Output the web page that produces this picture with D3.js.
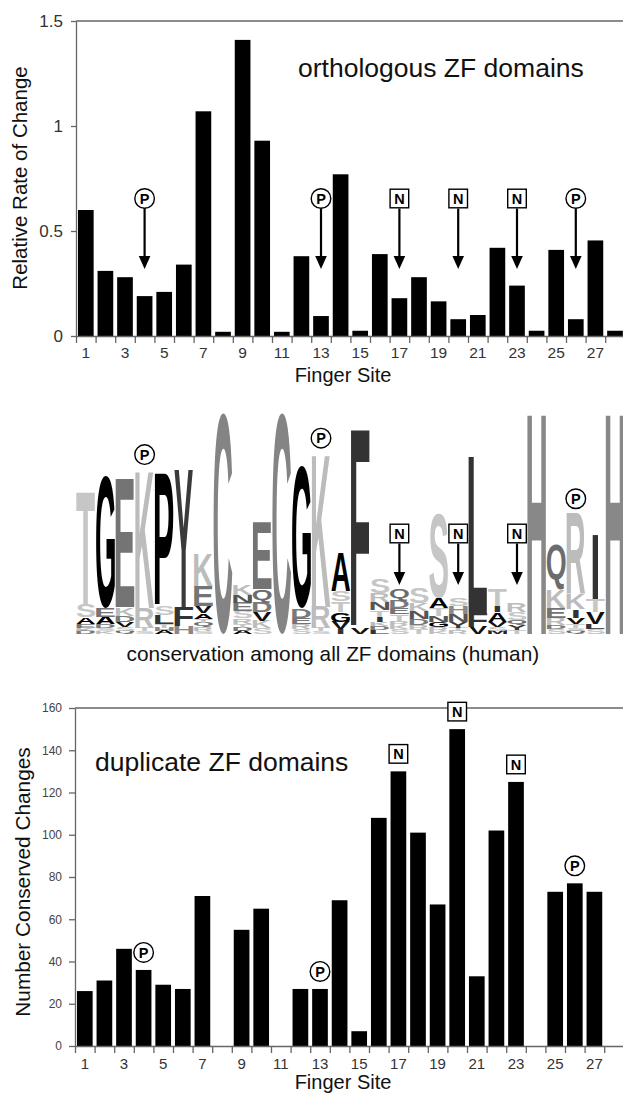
<!DOCTYPE html>
<html>
<head>
<meta charset="utf-8">
<script src="https://cdn.jsdelivr.net/npm/d3@7"></script>
<style>
body { margin: 0; background: #fff; }
svg { display: block; font-family: "Liberation Sans", Arial, sans-serif; }
</style>
</head>
<body>
<svg id="fig" width="623" height="1093"></svg>
<script>
// finger sites 1..28
const sites = [1,2,3,4,5,6,7,8,9,10,11,12,13,14,15,16,17,18,19,20,21,22,23,24,25,26,27,28];
const siteTickLabels = [1,3,5,7,9,11,13,15,17,19,21,23,25,27];

// top panel: relative rate of change, orthologous ZF domains
const rateOfChange = [0.60,0.31,0.28,0.19,0.21,0.34,1.07,0.02,1.41,0.93,0.02,0.38,0.095,0.77,
                      0.025,0.39,0.18,0.28,0.165,0.08,0.10,0.42,0.24,0.025,0.41,0.08,0.455,0.025];
const rateTicks = [0, 0.5, 1, 1.5];
const rateTickLabels = ["0", "0.5", "1", "1.5"];

// bottom panel: number of conserved changes, duplicate ZF domains
const conservedChanges = [26,31,46,36,29,27,71,0,55,65,0,27,27,69,7,108,130,101,67,150,33,102,125,0,73,77,73,0];
const countTicks = [0,20,40,60,80,100,120,140,160];

// marked sites (P = circle, N = box)
const markSites = [4, 13, 17, 20, 23, 26];
const markTypes = ["P", "P", "N", "N", "N", "P"];

// sequence logo: letters top to bottom, heights in bits
const logoLetters = ["TSAEKD","GEADSK","EKDVSQ","KRTS","PSLTHA","YFH","KEVATQRS","C","KNESRTDA","EQDVKS",
                     "C","GDERS","KRTS","ASTGVI","FV","SRNTIKDL","QDETRKS","SKNDRT","SATNGRK","SHNYTR",
                     "LFV","TIAVSM","RSQYT","H","QKERDS","RKIVTSQ","ITVLS","H"];
const logoBits = [
  [2.22,0.25,0.12,0.08,0.06,0.06],
  [2.57,0.16,0.14,0.08,0.06,0.06],
  [2.49,0.16,0.12,0.10,0.08,0.06],
  [2.68,0.39,0.06,0.06],
  [2.57,0.18,0.16,0.08,0.06,0.06],
  [2.67,0.37,0.16],
  [0.62,0.39,0.14,0.10,0.08,0.08,0.08,0.06],
  [4.30],
  [0.19,0.16,0.16,0.14,0.10,0.08,0.06,0.06],
  [1.30,0.27,0.19,0.16,0.14,0.12],
  [4.30],
  [2.76,0.18,0.12,0.10,0.10],
  [2.98,0.41,0.06,0.06],
  [0.76,0.21,0.21,0.18,0.14,0.10],
  [3.85,0.12],
  [0.29,0.18,0.16,0.12,0.10,0.08,0.08,0.08],
  [0.23,0.14,0.12,0.12,0.08,0.08,0.10],
  [0.31,0.16,0.14,0.12,0.08,0.10],
  [1.63,0.19,0.14,0.12,0.10,0.08,0.06],
  [0.16,0.16,0.14,0.12,0.06,0.06],
  [3.04,0.27,0.14],
  [0.33,0.12,0.18,0.10,0.08,0.06],
  [0.16,0.14,0.10,0.10,0.08],
  [4.32],
  [0.88,0.35,0.19,0.14,0.08,0.10],
  [1.56,0.29,0.16,0.12,0.08,0.06,0.06],
  [1.26,0.25,0.23,0.10,0.10],
  [4.32]
];
const letterColors = {A:"#000",V:"#111",L:"#333",I:"#333",P:"#000",F:"#333",M:"#222",W:"#222",
  G:"#000",S:"#c6c6c6",T:"#c6c6c6",Y:"#3a3a3a",C:"#848484",N:"#555",Q:"#6c6c6c",
  K:"#bcbcbc",R:"#bcbcbc",H:"#888",D:"#7a7a7a",E:"#747474"};

const svg = d3.select("#fig");
const axisColor = "#666";

const x = d3.scaleBand().domain(sites).range([76, 624.8]).paddingInner(0.2).paddingOuter(0.1);
const xEdge = d3.scaleLinear().domain([0.5, 28.5]).range([76, 624.8]);
const edges = sites.map(s => s - 0.5).concat([28.5]);
const cx = s => x(s) + x.bandwidth() / 2;

function styleAxis(g) {
  g.selectAll("path, line").attr("stroke", axisColor).attr("stroke-width", 1.3);
  g.selectAll("text").attr("fill", "#333").attr("font-family", "Liberation Sans, Arial, sans-serif");
}

function drawMark(g, px, py, type) {
  if (type === "P") {
    g.append("circle").attr("cx", px).attr("cy", py).attr("r", 9.8)
      .attr("fill", "#fff").attr("stroke", "#000").attr("stroke-width", 1.4);
  } else {
    g.append("rect").attr("x", px - 9.3).attr("y", py - 9.3).attr("width", 18.6).attr("height", 18.6)
      .attr("fill", "#fff").attr("stroke", "#000").attr("stroke-width", 1.4);
  }
  g.append("text").attr("x", px).attr("y", py + 5.2).attr("text-anchor", "middle")
    .attr("font-size", 14.5).attr("font-weight", "bold").attr("fill", "#000").text(type);
}

function drawArrow(g, px, y0, tip) {
  g.append("line").attr("x1", px).attr("x2", px).attr("y1", y0).attr("y2", tip - 10)
    .attr("stroke", "#000").attr("stroke-width", 2.2);
  g.append("path").attr("d", `M${px - 5.8},${tip - 13} L${px + 5.8},${tip - 13} L${px},${tip} Z`).attr("fill", "#000");
}

function bottomAxes(g, y0, padding, fs) {
  g.append("g").attr("transform", `translate(0,${y0})`)
    .call(d3.axisBottom(xEdge).tickValues(edges).tickFormat("").tickSize(7).tickSizeOuter(0))
    .call(styleAxis);
  g.append("g").attr("transform", `translate(0,${y0})`)
    .call(d3.axisBottom(x).tickValues(siteTickLabels).tickSize(0).tickPadding(padding))
    .call(a => a.select(".domain").remove())
    .call(styleAxis)
    .selectAll("text").attr("font-size", fs);
}

// ---------- top panel ----------
const yTop = d3.scaleLinear().domain([0, 1.5]).range([336, 21]);
const topPanel = svg.append("g");

topPanel.selectAll("rect.bar").data(rateOfChange).enter().append("rect")
  .attr("x", (d, i) => x(sites[i])).attr("width", x.bandwidth())
  .attr("y", d => yTop(d)).attr("height", d => yTop(0) - yTop(d)).attr("fill", "#000");

topPanel.append("line").attr("x1", 76).attr("x2", 630).attr("y1", yTop(1.5)).attr("y2", yTop(1.5))
  .attr("stroke", axisColor).attr("stroke-width", 1.3);
topPanel.append("g").attr("transform", "translate(76,0)")
  .call(d3.axisLeft(yTop).tickValues(rateTicks).tickFormat((d, i) => rateTickLabels[i]).tickSize(5).tickSizeOuter(0).tickPadding(8))
  .call(styleAxis)
  .selectAll("text").attr("font-size", 17);
bottomAxes(topPanel, 336, 11, 15.5);

topPanel.append("text").attr("transform", "translate(27,178) rotate(-90)").attr("text-anchor", "middle")
  .attr("font-size", 20.5).attr("fill", "#111").text("Relative Rate of Change");
topPanel.append("text").attr("x", 343).attr("y", 382).attr("text-anchor", "middle")
  .attr("font-size", 20).attr("fill", "#111").text("Finger Site");
topPanel.append("text").attr("x", 298).attr("y", 77).attr("font-size", 26.5).attr("fill", "#111")
  .text("orthologous ZF domains");

markSites.forEach((s, i) => {
  drawMark(topPanel, cx(s), 198.5, markTypes[i]);
  drawArrow(topPanel, cx(s), 208.5, 269);
});

// ---------- sequence logo ----------
const yLogo = d3.scaleLinear().domain([0, 4.32]).range([634, 412]);
const logo = svg.append("g");
const ctx = document.createElement("canvas").getContext("2d");
ctx.font = "bold 100px 'Liberation Sans'";
const glyph = {};
function metrics(ch) {
  if (!glyph[ch]) {
    const m = ctx.measureText(ch);
    glyph[ch] = {l: m.actualBoundingBoxLeft, r: m.actualBoundingBoxRight,
                  a: m.actualBoundingBoxAscent, d: m.actualBoundingBoxDescent};
  }
  return glyph[ch];
}

const step = xEdge(1.5) - xEdge(0.5);
const stackTops = [];
sites.forEach((s, i) => {
  const letters = logoLetters[i].split("");
  const bits = logoBits[i];
  let cum = 0;
  for (let k = letters.length - 1; k >= 0; k--) {
    const ch = letters[k];
    // narrow glyphs keep their narrow width, centred in the column
    const w = ch === "I" ? step * 0.3 : step - 0.8;
    const x0 = xEdge(s - 0.5) + (step - w) / 2;
    const yb = yLogo(cum), yt = yLogo(cum + bits[k]);
    const m = metrics(ch);
    const gw = m.l + m.r, gh = m.a + m.d;
    logo.append("text")
      .attr("transform", `translate(${x0},${yt}) scale(${w / gw},${(yb - yt) / gh}) translate(${m.l},${m.a})`)
      .attr("font-family", "Liberation Sans").attr("font-weight", "bold").attr("font-size", 100)
      .attr("fill", letterColors[ch] || "#777").text(ch);
    cum += bits[k];
  }
  stackTops.push(yLogo(cum));
});

markSites.forEach((s, i) => {
  if (markTypes[i] === "P") {
    drawMark(logo, cx(s), stackTops[s - 1] - 15.5, "P");
  } else {
    drawMark(logo, cx(s), 533.5, "N");
    drawArrow(logo, cx(s), 543.5, 585);
  }
});

logo.append("text").attr("x", 126.5).attr("y", 661).attr("font-size", 20.8).attr("fill", "#111")
  .text("conservation among all ZF domains (human)");

// ---------- bottom panel ----------
const yBot = d3.scaleLinear().domain([0, 160]).range([1046, 708]);
const bot = svg.append("g").attr("transform", "translate(-1,0)");

bot.selectAll("rect.bar").data(conservedChanges).enter().append("rect")
  .attr("x", (d, i) => x(sites[i])).attr("width", x.bandwidth())
  .attr("y", d => yBot(d)).attr("height", d => yBot(0) - yBot(d)).attr("fill", "#000");

bot.append("line").attr("x1", 76).attr("x2", 630).attr("y1", yBot(160)).attr("y2", yBot(160))
  .attr("stroke", axisColor).attr("stroke-width", 1.3);
bot.append("g").attr("transform", "translate(76,0)")
  .call(d3.axisLeft(yBot).tickValues(countTicks).tickSize(6).tickSizeOuter(0).tickPadding(7))
  .call(styleAxis)
  .selectAll("text").attr("font-size", 12).attr("fill", "#444");
bottomAxes(bot, 1046, 12, 15);

bot.append("text").attr("transform", "translate(31,882) rotate(-90)").attr("text-anchor", "middle")
  .attr("font-size", 20.8).attr("fill", "#111").text("Number Conserved Changes");
bot.append("text").attr("x", 344).attr("y", 1089).attr("text-anchor", "middle")
  .attr("font-size", 20).attr("fill", "#111").text("Finger Site");
bot.append("text").attr("x", 96).attr("y", 771).attr("font-size", 26.5).attr("fill", "#111")
  .text("duplicate ZF domains");

markSites.forEach((s, i) => {
  drawMark(bot, cx(s), yBot(conservedChanges[s - 1]) - 17.5, markTypes[i]);
});
</script>
</body>
</html>
